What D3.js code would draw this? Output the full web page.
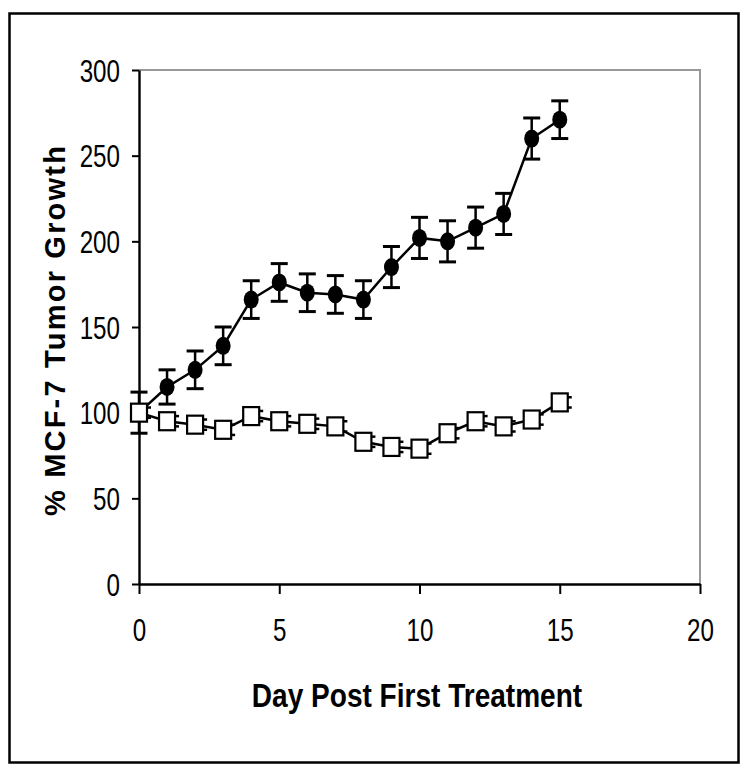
<!DOCTYPE html>
<html><head><meta charset="utf-8">
<script src="https://cdn.jsdelivr.net/npm/d3@7"></script>
<style>
html,body{margin:0;padding:0;background:#fff;}
text{font-family:"Liberation Sans",Arial,sans-serif;}
</style></head>
<body>
<svg id="chart" width="748" height="774"></svg>
<script>
const days = [0,1,2,3,4,5,6,7,8,9,10,11,12,13,14,15];
const treatedMean = [100,115,125,139,166,176,170,169,166,185,202,200,208,216,260,271];
const treatedErr  = [12,10,11,11,11,11,11,11,11,12,12,12,12,12,12,11];
const controlMean = [100,95,93,90,98,95,93.5,92,83,80,79,88,95,92,96,106];
const controlErr  = [3,3,3,3,3,3,3,3,3,3,3,3,3,3,3,3];
const xTicks = [0,5,10,15,20];
const yTicks = [0,50,100,150,200,250,300];
const xTitle = "Day Post First Treatment";
const yTitle = "% MCF-7 Tumor Growth";

const svg = d3.select("#chart");
svg.append("rect").attr("x",9.5).attr("y",13.5).attr("width",729).attr("height",749)
  .attr("fill","none").attr("stroke","#000").attr("stroke-width",2.5);

const m = {left:139, right:700, top:70, bottom:584};
const x = d3.scaleLinear().domain([0,20]).range([m.left,m.right]);
const y = d3.scaleLinear().domain([0,300]).range([m.bottom,m.top]);

// top/right gray frame
svg.append("path").attr("d",`M${m.left},${m.top}H${m.right}V${m.bottom}`)
  .attr("fill","none").attr("stroke","#999").attr("stroke-width",2);

const sx = 0.78;
const xAxis = svg.append("g").attr("transform",`translate(0,${m.bottom})`)
  .call(d3.axisBottom(x).tickValues(xTicks).tickSize(10).tickPadding(25).tickSizeOuter(0));
const yAxis = svg.append("g").attr("transform",`translate(${m.left},0)`)
  .call(d3.axisLeft(y).tickValues(yTicks).tickSize(7).tickPadding(12).tickSizeOuter(0));
[xAxis,yAxis].forEach(a=>{
  a.select(".domain").attr("stroke","#000").attr("stroke-width",2.4);
  a.selectAll(".tick line").attr("stroke","#000").attr("stroke-width",2);
  a.selectAll(".tick text").attr("fill","#000").style("font-size","31px");
});
yAxis.selectAll(".tick text").attr("dy","0.36em").attr("x",-19/sx).attr("transform",`scale(${sx},1)`);
xAxis.selectAll(".tick text").attr("dy","0.71em").attr("transform",`scale(${sx},1)`);

svg.append("text").attr("transform","translate(417,707) scale(0.85,1)").attr("text-anchor","middle")
  .style("font-size","33px").style("font-weight","bold")
  .text(xTitle);
svg.append("text").attr("transform",`translate(65,330) rotate(-90)`)
  .attr("text-anchor","middle").style("font-size","29px").style("font-weight","bold")
  .style("letter-spacing","2.2px")
  .text(yTitle);

const line = d3.line().x(d=>x(d[0])).y(d=>y(d[1]));
const tData = days.map((d,i)=>[d,treatedMean[i],treatedErr[i]]);
const cData = days.map((d,i)=>[d,controlMean[i],controlErr[i]]);

// treated series
const gT = svg.append("g");
gT.append("path").datum(tData).attr("d",line).attr("fill","none").attr("stroke","#000").attr("stroke-width",2.5);
const eb = gT.selectAll(".eb").data(tData).enter().append("g");
eb.append("line").attr("x1",d=>x(d[0])).attr("x2",d=>x(d[0]))
  .attr("y1",d=>y(d[1]+d[2])).attr("y2",d=>y(d[1]-d[2])).attr("stroke","#000").attr("stroke-width",2.5);
eb.append("line").attr("x1",d=>x(d[0])-8.5).attr("x2",d=>x(d[0])+8.5)
  .attr("y1",d=>y(d[1]+d[2])).attr("y2",d=>y(d[1]+d[2])).attr("stroke","#000").attr("stroke-width",3);
eb.append("line").attr("x1",d=>x(d[0])-8.5).attr("x2",d=>x(d[0])+8.5)
  .attr("y1",d=>y(d[1]-d[2])).attr("y2",d=>y(d[1]-d[2])).attr("stroke","#000").attr("stroke-width",3);
gT.selectAll(".pt").data(tData).enter().append("ellipse")
  .attr("cx",d=>x(d[0])).attr("cy",d=>y(d[1])).attr("rx",7.5).attr("ry",9).attr("fill","#000");

// control series
const gC = svg.append("g");
gC.append("path").datum(cData).attr("d",line).attr("fill","none").attr("stroke","#000").attr("stroke-width",2.5);
const ec = gC.selectAll(".ec").data(cData).enter().append("g");
ec.append("line").attr("x1",d=>x(d[0])+5).attr("x2",d=>x(d[0])+12)
  .attr("y1",d=>y(d[1]+d[2])).attr("y2",d=>y(d[1]+d[2])).attr("stroke","#000").attr("stroke-width",2.5);
ec.append("line").attr("x1",d=>x(d[0])+5).attr("x2",d=>x(d[0])+12)
  .attr("y1",d=>y(d[1]-d[2])).attr("y2",d=>y(d[1]-d[2])).attr("stroke","#000").attr("stroke-width",2.5);
gC.selectAll(".sq").data(cData).enter().append("rect")
  .attr("x",d=>x(d[0])-8).attr("y",d=>y(d[1])-9).attr("width",16).attr("height",18)
  .attr("fill","#fff").attr("stroke","#000").attr("stroke-width",2.2);
</script>
</body></html>
